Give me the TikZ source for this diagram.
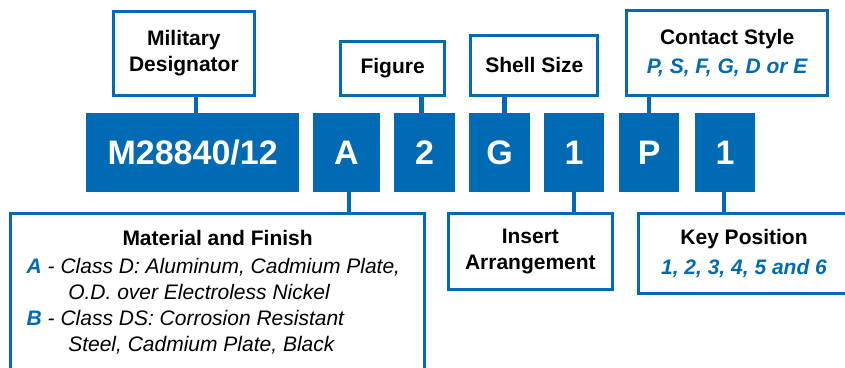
\documentclass[tikz,border=0pt]{standalone}
\usepackage{fontspec}
\setmainfont{Liberation Sans}
\usetikzlibrary{positioning}
\definecolor{partblue}{RGB}{0,106,180}

\begin{document}
\begin{tikzpicture}[x=1pt, y=-1pt,
    every node/.style={inner sep=0pt, outer sep=0pt, font=\fontsize{21}{26}\selectfont\bfseries},
    code/.style={fill=partblue, text=white, minimum height=79pt, minimum width=60pt,
      font=\fontsize{34}{40}\selectfont\bfseries},
    field/.style={draw=partblue, line width=3pt, align=center},
    link/.style={draw=partblue, line width=4.5pt},
    opt/.style={text=partblue, font=\fontsize{21}{26}\selectfont\bfseries\itshape}]
  \clip (0,0) rectangle (845,367);

  \node[code, minimum width=213.3pt] (m) at (192.65,152.8) {M28840/12};
  \node[code, minimum width=66.4pt, right=14pt of m] (a) {A};
  \node[code, minimum width=60.7pt, right=14.6pt of a] (two) {2};
  \node[code, minimum width=61.3pt, right=14pt of two] (g) {G};
  \node[code, minimum width=59.4pt, right=14pt of g] (ins1) {1};
  \node[code, minimum width=59.7pt, right=15.6pt of ins1] (p) {P};
  \node[code, minimum width=60pt, right=16pt of p] (key1) {1};

  \node[field, minimum width=141.3pt, minimum height=83.7pt] (mil) at (183.85,53.35) {Military\\Designator};
  \node[field, minimum width=103.7pt, minimum height=53.7pt] (fig) at (392.65,68.35) {Figure};
  \node[field, minimum width=127pt, minimum height=59.7pt] (shell) at (534.3,65.35) {Shell Size};
  \node[field, minimum width=201.3pt, minimum height=84.7pt] (contact) at (727.15,52.85)
    {Contact Style\\[3pt]{\itshape\color{partblue}P, S, F, G, D or E}};

  \node[field, minimum width=413.7pt, minimum height=166.8pt] (mat) at (217.65,296.6) {};
  \node[anchor=base] (mattitle) at (217.6,245.7) {Material and Finish};
  \node[anchor=base west, align=left, font=\fontsize{21}{26}\selectfont\mdseries\itshape] (matbody) at (26.7,351.7)
    {{\bfseries\color{partblue}A} - Class D: Aluminum, Cadmium Plate,\\
     \hspace*{41.6pt}O.D. over Electroless Nickel\\
     {\bfseries\color{partblue}B} - Class DS: Corrosion Resistant\\
     \hspace*{41.6pt}Steel, Cadmium Plate, Black};
  \node[field, minimum width=164.3pt, minimum height=75.4pt] (ins) at (530.35,251.5) {Insert\\Arrangement};
  \node[field, minimum width=211.6pt, minimum height=80.3pt] (key) at (744,253.65)
    {Key Position\\[4.7pt]{\itshape\color{partblue}1, 2, 3, 4, 5 and 6}};

  \draw[link] ([xshift=3.4pt]m.north) -- ([xshift=3.4pt]m.north |- mil.south);
  \draw[link] ([xshift=-3pt]two.north) -- ([xshift=-3pt]two.north |- fig.south);
  \draw[link] ([xshift=5pt]g.north) -- ([xshift=5pt]g.north |- shell.south);
  \draw[link] (p.north) -- (p.north |- contact.south);
  \draw[link] ([xshift=2.3pt]a.south) -- ([xshift=2.3pt]a.south |- mat.north);
  \draw[link] (ins1.south) -- (ins1.south |- ins.north);
  \draw[link] ([xshift=-1pt]key1.south) -- ([xshift=-1pt]key1.south |- key.north);
\end{tikzpicture}
\end{document}
